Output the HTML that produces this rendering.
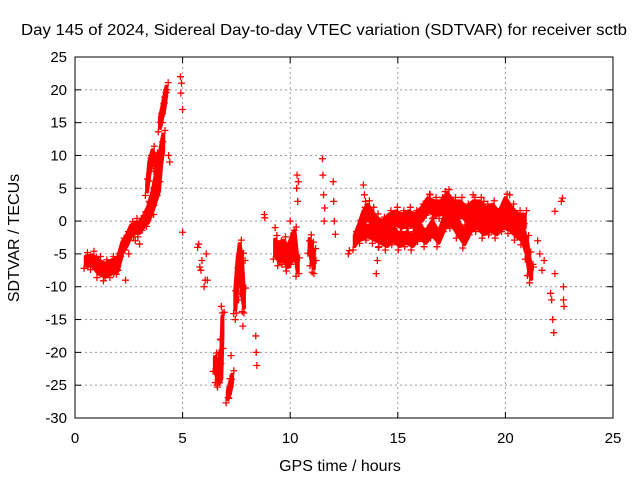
<!DOCTYPE html>
<html><head><meta charset="utf-8"><style>
body{margin:0;background:#fff;}
svg{display:block;font-family:"Liberation Sans",sans-serif;}
</style></head><body>
<svg id="chart" width="640" height="480">
<text x="324" y="35" font-size="16" textLength="606" lengthAdjust="spacingAndGlyphs" text-anchor="middle">Day 145 of 2024, Sidereal Day-to-day VTEC variation (SDTVAR) for receiver sctb</text>
<text x="340" y="471" font-size="16" text-anchor="middle">GPS time / hours</text>
<text transform="translate(19,238) rotate(-90)" font-size="16" text-anchor="middle">SDTVAR / TECUs</text>
<g id="grid"></g><g id="ticks"></g><g id="marks"></g>
<rect x="75" y="57" width="538" height="361" fill="none" stroke="#000" stroke-width="1"/>
</svg>
<script>
const xTicks=[0,5,10,15,20,25];
const yTicks=[25,20,15,10,5,0,-5,-10,-15,-20,-25,-30];
// dense clusters: [hours, centre TECU, half-spread TECU]
const track1=[[0.5,-6,0.6],[0.8,-6,0.8],[1.1,-7,1],[1.4,-7.5,1],[1.7,-7,1],[2.0,-6.5,1],[2.2,-4,0.8],[2.4,-3,0.8],[2.6,-1.5,0.8],[2.8,-1,0.8],[3.0,-1,0.8],[3.2,0,0.8],[3.4,1,1.2],[3.6,3,1.5],[3.75,5,2],[3.9,7,2.5],[4.0,10,1.5],[4.1,12,1.2]];
const track1b=[[3.35,5,0.5],[3.45,8,1],[3.6,10,0.8],[3.75,9,0.8]];
const track1c=[[3.95,15,0.8],[4.05,16.5,0.8],[4.15,18,1],[4.25,20,0.5]];
const track2=[[6.5,-21.5,0.8],[6.6,-22.5,1.5],[6.7,-23.5,1.2],[6.8,-22,2],[6.85,-16,1.5]];
const track3=[[7.1,-26.5,0.6],[7.2,-25.5,0.8],[7.3,-24,0.6]];
const track3b=[[7.45,-12,1.5],[7.55,-8,2],[7.65,-5,1.5],[7.75,-8,2.5],[7.85,-12,1.2]];
const track4=[[9.3,-4,1.2],[9.5,-5,1.2],[9.7,-4.5,1.5],[9.9,-5.5,1.5],[10.1,-4,2],[10.2,-3,1.5],[10.35,-7,0.8]];
const track4b=[[10.9,-3.5,0.8],[11.0,-5,1.2],[11.1,-6,1.2]];
const track5=[[13.0,-3,0.8],[13.2,-1.5,1],[13.4,0.5,1],[13.6,1.5,1],[13.8,0.5,1],[14.0,-0.5,1],[14.3,-1,1],[14.6,0,1],[14.9,0.5,1],[15.2,0,1],[15.5,0.5,1],[15.8,0,1],[16.1,1,1],[16.4,2.5,1],[16.7,2,1],[17.0,2,1],[17.3,3,1.2],[17.6,2,1],[17.9,2,1],[18.2,1,1],[18.5,2,1],[18.8,2,1],[19.1,1,1],[19.4,1.5,1],[19.7,0.5,0.8],[20.0,2.5,1],[20.3,1,1],[20.6,0,1],[20.9,0,1]];
const track6=[[13.3,-2,0.8],[13.6,-1.5,0.8],[13.9,-2,0.8],[14.2,-2.5,0.8],[14.5,-3,0.8],[14.8,-2,1],[15.1,-3,0.8],[15.4,-2.5,0.8],[15.7,-3,0.8],[16.0,-1.5,1],[16.3,-2.5,0.8],[16.6,-1,1],[16.9,-2.5,0.8],[17.2,0,1],[17.5,0.5,1],[17.8,-1,1],[18.1,-2.5,1],[18.4,-0.5,1],[18.7,0,1],[19.0,-1,1],[19.3,-0.5,1],[19.6,-1,1],[19.9,0,1],[20.2,-0.5,0.8],[20.5,-1.5,0.8],[20.8,-2,1],[21.0,-4,1.2],[21.1,-6.5,1.2],[21.2,-8,0.8]];
// scattered points
const scatterX=[0.6,0.8,1.0,1.2,1.4,1.6,1.8,2.0,2.35,2.5,2.8,3.0,3.2,3.45,3.55,3.65,3.75,3.95,4.05,4.15,4.25,4.35,4.4,4.9,4.92,4.95,5.0,5.0,5.7,5.75,5.8,5.85,5.9,6.0,6.05,6.1,6.15,6.6,6.7,6.75,6.8,6.85,7.15,7.2,7.25,7.45,7.5,7.55,7.6,7.8,7.85,7.9,8.4,8.42,8.45,8.8,8.82,9.3,9.6,9.8,10.0,10.3,10.32,10.35,10.4,10.38,10.9,11.0,11.1,11.2,11.5,11.52,11.55,11.6,11.58,12.0,12.02,12.05,12.1,12.7,12.75,13.4,13.45,13.5,14.0,14.05,14.1,16.5,17.2,18.5,19.0,20.2,21.3,21.5,21.6,21.7,21.8,22.1,22.15,22.2,22.25,22.3,22.3,22.6,22.65,22.7,22.7,22.72];
const scatterY=[-7,-6,-5.5,-8,-8.5,-6.5,-8,-7.5,-9,-5,-3,-3.5,0,3,10,1,8,6,15,18,20,10,9,22,19.5,21,17,-1.7,-4,-3.5,-7,-7.5,-6,-10,-9,-5,-9,-25,-20,-18,-13,-14,-27,-24,-20.5,-15,-14,-10,-12,-16,-14,-6,-17.5,-20,-22,1,0.5,-1,-3,-7,0,5,7,3,-8,6,-3,-5,-8,-6,9.5,7,4,2,0,6,3,0,-2,-5,-4.5,5.5,4,3,-8,-6,-4,4,4.5,4,3,4,-7,-3,-5,-7.5,-6,-11,-12,-15,-17,-8,1.5,3,3.5,-10,-12,-13];
const tracks=[track1,track1b,track1c,track2,track3,track3b,track4,track4b,track5,track6];
const X=v=>75+v*538/25, Y=v=>57+(25-v)*361/55;
const NS='http://www.w3.org/2000/svg';
const g=document.getElementById('grid'),tk=document.getElementById('ticks'),mk=document.getElementById('marks');
function mkEl(t,a,p){const e=document.createElementNS(NS,t);for(const k in a)e.setAttribute(k,a[k]);p.appendChild(e);return e;}
xTicks.forEach(v=>{const x=X(v);
 if(v>0&&v<25){const l=mkEl('line',{x1:x,x2:x,y1:57,y2:418,stroke:'#999','stroke-dasharray':'2,3'},g);
 
 }
 mkEl('line',{x1:x,x2:x,y1:418,y2:412,stroke:'#000'},tk);mkEl('line',{x1:x,x2:x,y1:57,y2:63,stroke:'#000'},tk);
 const t=mkEl('text',{x:x,y:443,'font-size':15,'text-anchor':'middle'},tk);t.textContent=v;
 
 });
yTicks.forEach(v=>{const y=Y(v);
 if(v<25&&v>-30){const l=mkEl('line',{x1:75,x2:613,y1:y,y2:y,stroke:'#999','stroke-dasharray':'2,3'},g);
 
 }
 mkEl('line',{x1:75,x2:81,y1:y,y2:y,stroke:'#000'},tk);mkEl('line',{x1:613,x2:607,y1:y,y2:y,stroke:'#000'},tk);
 const t=mkEl('text',{x:67,y:y+5,'font-size':15,'text-anchor':'end'},tk);t.textContent=v;
 
 });
function plus(x,y){const p=mkEl('path',{d:`M${X(x)-3.5},${Y(y)}h7M${X(x)},${Y(y)-3.5}v7`,stroke:'#f00','stroke-width':1.3},mk);
 
 }
tracks.forEach(tr=>{
 const up=tr.map(p=>X(p[0])+','+Y(p[1]+p[2]));
 const lo=tr.slice().reverse().map(p=>X(p[0])+','+Y(p[1]-p[2]));
 const pg=mkEl('polygon',{points:up.concat(lo).join(' '),fill:'#f00',stroke:'#f00','stroke-width':4,'stroke-linejoin':'round'},mk);
 
 
 tr.forEach(p=>{plus(p[0]+0.08,p[1]+p[2]+0.6);plus(p[0]-0.08,p[1]-p[2]-0.6);});});
scatterX.forEach((x,i)=>plus(x,scatterY[i]));
</script>
</body></html>
